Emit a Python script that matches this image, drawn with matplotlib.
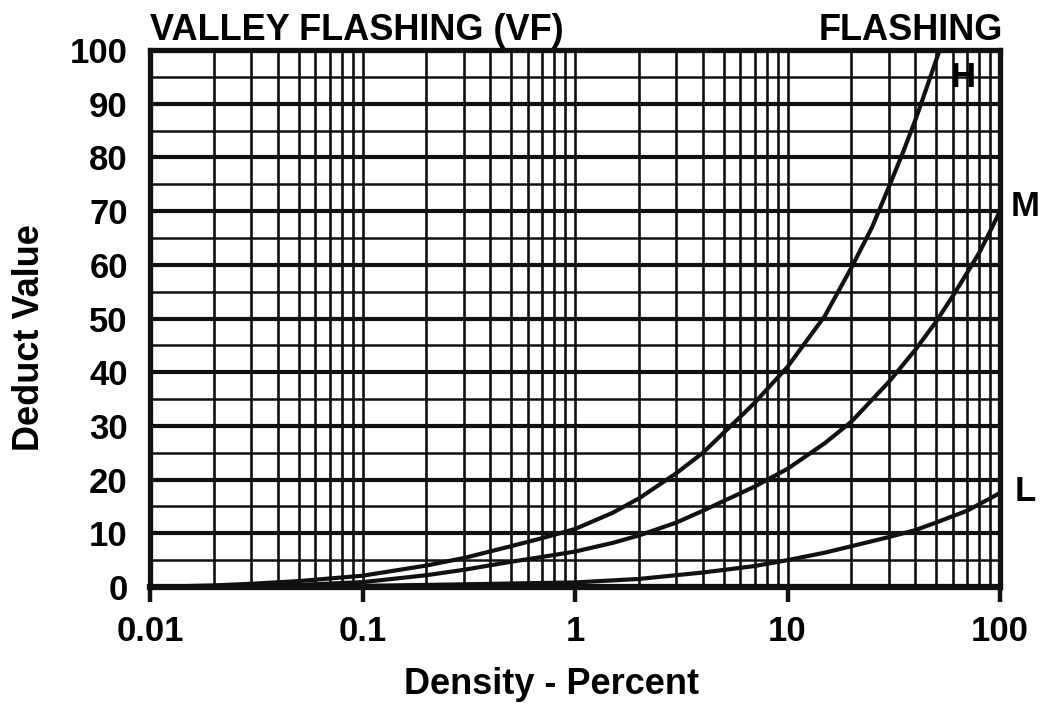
import matplotlib
matplotlib.use("Agg")
import matplotlib.pyplot as plt
from matplotlib.ticker import LogLocator, MultipleLocator, NullFormatter

# values
density_h = [0.01, 0.02, 0.03, 0.05, 0.1, 0.2, 0.3, 0.5, 0.7, 1, 1.5, 2, 3, 4, 5, 6, 7, 8,
             10, 15, 20, 25, 30, 35, 40, 45, 52]
deduct_h = [0, 0.3, 0.6, 1.1, 2.1, 4.0, 5.4, 7.6, 9.1, 10.8, 13.8, 16.5, 21.2, 25, 28.7, 31.7,
            34.3, 36.8, 41, 50.5, 59.5, 67, 74.5, 81, 87, 92.8, 100]

density_m = [0.01, 0.02, 0.03, 0.05, 0.1, 0.2, 0.3, 0.5, 0.7, 1, 1.5, 2, 3, 4, 5, 7, 10,
             15, 20, 30, 40, 50, 60, 70, 80, 90, 100]
deduct_m = [0, 0.1, 0.2, 0.4, 0.9, 2.2, 3.2, 4.7, 5.6, 6.6, 8.2, 9.6, 12, 14.2, 16, 18.7, 22,
            26.8, 30.8, 38.2, 44.2, 49.4, 54.2, 58.5, 62.3, 66.3, 70]

density_l = [0.01, 0.03, 0.1, 0.3, 1, 2, 4, 7, 10, 15, 20, 30, 40, 50, 70, 100]
deduct_l = [0, 0.05, 0.2, 0.5, 0.85, 1.5, 2.7, 3.9, 5.0, 6.4, 7.6, 9.3, 10.6, 12, 14.2, 17.5]

x_ticks = [0.01, 0.1, 1, 10, 100]
x_labels = ["0.01", "0.1", "1", "10", "100"]
curve_labels = ["H", "M", "L"]

plt.rcParams['font.family'] = ['Liberation Sans', 'DejaVu Sans']
plt.rcParams['font.weight'] = 'bold'
ink = '#111111'

fig = plt.figure(figsize=(10.44, 7.08), dpi=100)
ax = fig.add_axes([150/1044, 1 - 587/708, 850/1044, 537/708])

ax.set_xscale('log')
ax.set_xlim(0.01, 100)
ax.set_ylim(0, 100)

# grid
ax.xaxis.set_minor_locator(LogLocator(base=10, subs=range(2, 10), numticks=20))
ax.xaxis.set_minor_formatter(NullFormatter())
ax.set_xticks(x_ticks)
ax.set_xticklabels(x_labels)
ax.yaxis.set_major_locator(MultipleLocator(10))
ax.yaxis.set_minor_locator(MultipleLocator(5))
ax.grid(True, axis='x', which='both', color=ink, lw=1.9)
ax.grid(True, axis='y', which='major', color=ink, lw=3.0)
ax.grid(True, axis='y', which='minor', color=ink, lw=1.8)
ax.set_axisbelow(True)

ax.tick_params(axis='x', which='major', direction='out', length=11, width=3.2,
               color=ink, labelsize=25, pad=9)
ax.tick_params(axis='x', which='minor', length=0)
ax.tick_params(axis='y', which='both', length=0, labelsize=25, pad=16)
for lab in ax.get_xticklabels() + ax.get_yticklabels():
    lab.set_fontweight('bold')

for s in ax.spines.values():
    s.set_linewidth(3.8)
    s.set_color(ink)
ax.spines['bottom'].set_linewidth(4.5)

ax.plot(density_h, deduct_h, color=ink, lw=3.0, solid_joinstyle='round')
ax.plot(density_m, deduct_m, color=ink, lw=3.0, solid_joinstyle='round')
ax.plot(density_l, deduct_l, color=ink, lw=3.0, solid_joinstyle='round')

# curve labels
ax.text(67, 94.8, curve_labels[0], fontsize=25, fontweight='bold', ha='center', va='center')
ax.text(131, 70.8, curve_labels[1], fontsize=25, fontweight='bold', ha='center', va='center',
        clip_on=False)
ax.text(131, 17.7, curve_labels[2], fontsize=25, fontweight='bold', ha='center', va='center',
        clip_on=False)

fig.text(150/1044, 1 - 40/708, "VALLEY FLASHING (VF)", fontsize=26, fontweight='bold',
         ha='left', va='baseline')
fig.text(1003/1044, 1 - 40/708, "FLASHING", fontsize=26, fontweight='bold',
         ha='right', va='baseline')
fig.text(552/1044, 1 - 684/708, "Density - Percent", fontsize=26, fontweight='bold',
         ha='center', va='center')
fig.text(30/1044, 1 - 338/708, "Deduct Value", fontsize=26, fontweight='bold',
         ha='center', va='center', rotation=90)

fig.savefig("out.png", dpi=100)
